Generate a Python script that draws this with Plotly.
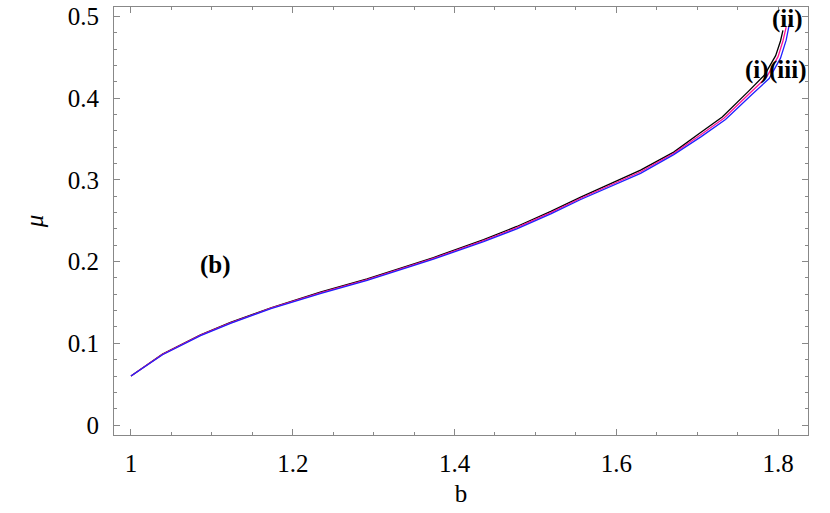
import plotly.graph_objects as go

# curve (i): black
b_black = [1.0, 1.039, 1.086, 1.123, 1.173, 1.235, 1.292, 1.374, 1.436, 1.477, 1.519,
           1.556, 1.630, 1.671, 1.703, 1.731, 1.763, 1.783, 1.797, 1.803, 1.806]
mu_black = [0.060, 0.087, 0.1105, 0.1255, 0.1435, 0.163, 0.179, 0.205, 0.227, 0.243, 0.2615,
            0.279, 0.312, 0.334, 0.357, 0.377, 0.408, 0.428, 0.452, 0.470, 0.483]

# curve (ii): magenta
b_pink = [1.0, 1.039, 1.086, 1.123, 1.173, 1.235, 1.292, 1.374, 1.436, 1.477, 1.519,
          1.556, 1.630, 1.671, 1.704, 1.733, 1.765, 1.786, 1.800, 1.806, 1.810]
mu_pink = [0.060, 0.0865, 0.110, 0.125, 0.143, 0.162, 0.178, 0.204, 0.2256, 0.2415, 0.260,
           0.2775, 0.310, 0.3326, 0.355, 0.3754, 0.406, 0.426, 0.4508, 0.470, 0.487]

# curve (iii): blue
b_blue = [1.0, 1.039, 1.086, 1.123, 1.173, 1.235, 1.292, 1.374, 1.436, 1.477, 1.519,
          1.556, 1.630, 1.671, 1.705, 1.735, 1.767, 1.789, 1.803, 1.810, 1.814]
mu_blue = [0.060, 0.086, 0.1095, 0.1245, 0.1425, 0.161, 0.177, 0.203, 0.2245, 0.240, 0.2585,
           0.276, 0.308, 0.331, 0.353, 0.374, 0.404, 0.424, 0.449, 0.471, 0.491]

labels = ["(ii)", "(i)", "(iii)", "(b)"]
label_x = [1.8115, 1.774, 1.8125, 1.105]
label_y = [0.497, 0.434, 0.434, 0.196]

serif = "Liberation Serif, Times New Roman, serif"

fig = go.Figure()
fig.add_trace(go.Scatter(x=b_black, y=mu_black, mode="lines", line=dict(color="black", width=1.3)))
fig.add_trace(go.Scatter(x=b_pink, y=mu_pink, mode="lines", line=dict(color="#ff1493", width=1.3)))
fig.add_trace(go.Scatter(x=b_blue, y=mu_blue, mode="lines", line=dict(color="#2020ff", width=1.3)))

for t, x, y in zip(labels, label_x, label_y):
    fig.add_annotation(x=x, y=y, text="<b>" + t + "</b>", showarrow=False,
                       font=dict(family=serif, size=25, color="black"))

axis_style = dict(
    showgrid=False, zeroline=False, showline=True, linecolor="#888888", linewidth=1,
    mirror="ticks", ticks="inside", ticklen=6, tickcolor="#888888", automargin=False,
    tickfont=dict(family=serif, size=25, color="black"),
)

fig.update_xaxes(range=[0.979, 1.837], tickvals=[1, 1.2, 1.4, 1.6, 1.8],
                 ticktext=["1", "1.2", "1.4", "1.6", "1.8"], ticklabelstandoff=6,
                 minor=dict(dtick=0.05, tick0=1, ticks="inside", ticklen=3, tickcolor="#888888"),
                 title=dict(text="b", font=dict(family=serif, size=25, color="black"), standoff=8),
                 **axis_style)
fig.update_yaxes(range=[-0.0122, 0.5116], tickvals=[0, 0.1, 0.2, 0.3, 0.4, 0.5],
                 ticktext=["0", "0.1", "0.2", "0.3", "0.4", "0.5"], ticklabelstandoff=9,
                 minor=dict(dtick=0.02, tick0=0, ticks="inside", ticklen=3, tickcolor="#888888"),
                 title=dict(text="<i>μ</i>", font=dict(family=serif, size=25, color="black"), standoff=17),
                 **axis_style)

fig.update_layout(width=830, height=513, showlegend=False,
                  font=dict(family=serif, color="black"),
                  plot_bgcolor="white", paper_bgcolor="white",
                  margin=dict(l=114, r=22, t=7, b=78))

# drop the page's default body margin so the figure sits at the window corner
fig.write_html("out.html", config={"displayModeBar": False},
               post_script="document.body.style.margin='0';")
